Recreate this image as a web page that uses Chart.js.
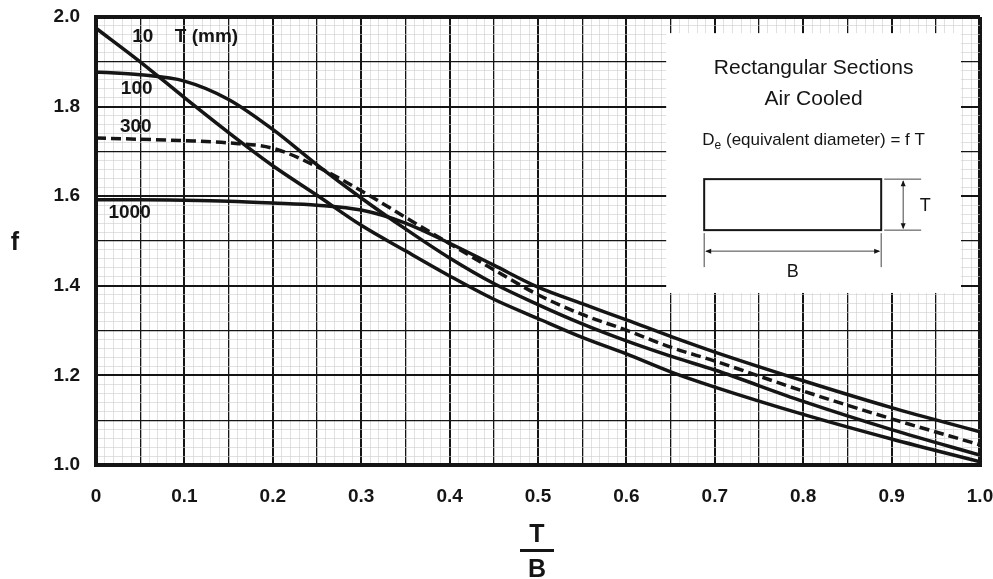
<!DOCTYPE html>
<html>
<head>
<meta charset="utf-8">
<script src="https://cdn.jsdelivr.net/npm/chart.js@4.4.1/dist/chart.umd.min.js"></script>
<style>
  html, body { margin: 0; padding: 0; background: #fff; }
  #wrap { width: 993px; height: 579px; }
</style>
</head>
<body>
<div id="wrap"><canvas id="fChart" width="993" height="579"></canvas></div>
<script>
// T/B ratio and f
const ratioTB = [0, 0.05, 0.1, 0.15, 0.2, 0.25, 0.3, 0.35, 0.4, 0.45, 0.5, 0.55, 0.6, 0.65, 0.7, 0.8, 0.9, 1.0];
const fT10   = [1.975, 1.900, 1.820, 1.742, 1.668, 1.602, 1.535, 1.478, 1.422, 1.370, 1.327, 1.285, 1.248, 1.208, 1.174, 1.113, 1.058, 1.007];
const fT100  = [1.877, 1.871, 1.857, 1.816, 1.749, 1.670, 1.596, 1.527, 1.462, 1.405, 1.358, 1.315, 1.277, 1.243, 1.212, 1.142, 1.079, 1.022];
const fT300  = [1.730, 1.727, 1.724, 1.719, 1.707, 1.666, 1.612, 1.553, 1.494, 1.436, 1.380, 1.336, 1.301, 1.263, 1.232, 1.165, 1.103, 1.045];
const fT1000 = [1.592, 1.592, 1.591, 1.589, 1.585, 1.580, 1.569, 1.540, 1.495, 1.446, 1.397, 1.360, 1.324, 1.287, 1.252, 1.188, 1.128, 1.074];
const xTickLabels = ["0", "0.1", "0.2", "0.3", "0.4", "0.5", "0.6", "0.7", "0.8", "0.9", "1.0"];
const yTickLabels = ["1.0", "1.2", "1.4", "1.6", "1.8", "2.0"];

const INK = "#151515";
const FONT = "'Liberation Sans', Arial, sans-serif";

function toPoints(ys) {
  return ratioTB.map((x, i) => ({ x: x, y: ys[i] }));
}

function curve(label, ys, dash) {
  return {
    label: label,
    data: toPoints(ys),
    borderColor: INK,
    borderWidth: 3.5,
    borderDash: dash || [],
    pointRadius: 0,
    fill: false,
    cubicInterpolationMode: "monotone",
  };
}

// grid: x every 0.01 (0.05 medium, 0.1 heavy), y every 0.02 (0.1 medium, 0.2 heavy)
function xGridWidth(ctx) {
  const k = Math.round(ctx.tick.value * 100);
  if (k === 0 || k === 100) return 4;
  if (k % 10 === 0) return 2;
  if (k % 5 === 0) return 1.3;
  return 0.6;
}
function xGridColor(ctx) {
  const k = Math.round(ctx.tick.value * 100);
  return k % 5 === 0 ? INK : "#cdcdcd";
}
function yGridWidth(ctx) {
  const k = Math.round(ctx.tick.value * 100);
  if (k === 100 || k === 200) return 4;
  if (k % 20 === 0) return 2;
  if (k % 10 === 0) return 1.3;
  return 0.6;
}
function yGridColor(ctx) {
  const k = Math.round(ctx.tick.value * 100);
  return k % 10 === 0 ? INK : "#cdcdcd";
}

const annotate = {
  id: "annotate",
  beforeDatasetsDraw(chart) {
    const { ctx, scales: { x, y } } = chart;
    const left = x.getPixelForValue(0.645);
    const right = x.getPixelForValue(0.9785);
    const top = y.getPixelForValue(1.964);
    const bottom = y.getPixelForValue(1.384);
    const cx = (left + right) / 2;
    ctx.save();
    ctx.fillStyle = "#fff";
    ctx.fillRect(left, top, right - left, bottom - top);

    ctx.fillStyle = INK;
    ctx.textAlign = "center";
    ctx.textBaseline = "middle";
    ctx.font = "21px " + FONT;
    ctx.fillText("Rectangular Sections", cx, top + 35);
    ctx.fillText("Air Cooled", cx, top + 66);

    // D_e (equivalent diameter) = f T
    ctx.font = "17px " + FONT;
    const rest = " (equivalent diameter) = f T";
    const wD = ctx.measureText("D").width;
    ctx.font = "12px " + FONT;
    const wE = ctx.measureText("e").width;
    ctx.font = "17px " + FONT;
    const wR = ctx.measureText(rest).width;
    let tx = cx - (wD + wE + wR) / 2;
    const ty = top + 107;
    ctx.textAlign = "left";
    ctx.fillText("D", tx, ty);
    ctx.font = "12px " + FONT;
    ctx.fillText("e", tx + wD, ty + 6);
    ctx.font = "17px " + FONT;
    ctx.fillText(rest, tx + wD + wE, ty);

    // section sketch
    const rx0 = left + 38, rx1 = left + 215, ry0 = top + 146, ry1 = top + 197;
    ctx.strokeStyle = INK;
    ctx.lineWidth = 2;
    ctx.strokeRect(rx0, ry0, rx1 - rx0, ry1 - ry0);

    ctx.lineWidth = 0.8;
    ctx.beginPath();
    ctx.moveTo(rx1 + 3, ry0); ctx.lineTo(rx1 + 40, ry0);
    ctx.moveTo(rx1 + 3, ry1); ctx.lineTo(rx1 + 40, ry1);
    ctx.moveTo(rx1 + 22, ry0 + 2); ctx.lineTo(rx1 + 22, ry1 - 2);
    ctx.moveTo(rx0, ry1 + 3); ctx.lineTo(rx0, ry1 + 37);
    ctx.moveTo(rx1, ry1 + 3); ctx.lineTo(rx1, ry1 + 37);
    ctx.moveTo(rx0 + 2, ry1 + 21); ctx.lineTo(rx1 - 2, ry1 + 21);
    ctx.stroke();

    function arrow(px, py, dx, dy) {
      ctx.beginPath();
      ctx.moveTo(px, py);
      ctx.lineTo(px - dx * 6 - dy * 2.5, py - dy * 6 - dx * 2.5);
      ctx.lineTo(px - dx * 6 + dy * 2.5, py - dy * 6 + dx * 2.5);
      ctx.closePath();
      ctx.fill();
    }
    arrow(rx1 + 22, ry0 + 1, 0, -1);
    arrow(rx1 + 22, ry1 - 1, 0, 1);
    arrow(rx0 + 1, ry1 + 21, -1, 0);
    arrow(rx1 - 1, ry1 + 21, 1, 0);

    ctx.textAlign = "center";
    ctx.font = "18px " + FONT;
    ctx.fillText("T", rx1 + 44, (ry0 + ry1) / 2 + 1);
    ctx.fillText("B", (rx0 + rx1) / 2, ry1 + 42);
    ctx.restore();
  },
  afterDraw(chart) {
    const { ctx, scales: { x, y }, chartArea } = chart;
    ctx.save();
    ctx.fillStyle = INK;
    ctx.textBaseline = "middle";
    ctx.textAlign = "center";
    ctx.font = "bold 19px " + FONT;
    ctx.fillText("10", x.getPixelForValue(0.053), y.getPixelForValue(1.955));
    ctx.fillText("T (mm)", x.getPixelForValue(0.125), y.getPixelForValue(1.955));
    ctx.fillText("100", x.getPixelForValue(0.046), y.getPixelForValue(1.839));
    ctx.fillText("300", x.getPixelForValue(0.045), y.getPixelForValue(1.754));
    ctx.fillText("1000", x.getPixelForValue(0.038), y.getPixelForValue(1.5625));

    // axis titles
    ctx.font = "bold 25px " + FONT;
    ctx.fillText("f", 15, (chartArea.top + chartArea.bottom) / 2 + 2);
    const mx = (chartArea.left + chartArea.right) / 2 - 1;
    ctx.fillText("T", mx, 535);
    ctx.fillText("B", mx, 570);
    ctx.fillRect(mx - 17, 549, 34, 3);
    ctx.restore();
  },
};

new Chart(document.getElementById("fChart"), {
  type: "line",
  data: {
    datasets: [
      curve("10", fT10),
      curve("100", fT100),
      curve("300", fT300, [10, 5]),
      curve("1000", fT1000),
    ],
  },
  options: {
    responsive: false,
    animation: false,
    layout: { padding: { top: 17, right: 13, left: 0, bottom: 0 } },
    plugins: { legend: { display: false }, tooltip: { enabled: false } },
    scales: {
      x: {
        type: "linear",
        min: 0,
        max: 1,
        afterFit: (s) => { s.height = 114; s.paddingLeft = 0; s.paddingRight = 0; },
        ticks: {
          stepSize: 0.01,
          autoSkip: false,
          maxRotation: 0,
          padding: 20,
          color: INK,
          font: { family: FONT, size: 19, weight: "bold" },
          callback: (v) => {
            const k = Math.round(v * 100);
            return k % 10 === 0 ? xTickLabels[k / 10] : "";
          },
        },
        grid: { drawTicks: false, lineWidth: xGridWidth, color: xGridColor },
        border: { display: true, width: 4, color: INK },
      },
      y: {
        min: 1,
        max: 2,
        afterFit: (s) => { s.width = 96; s.paddingTop = 0; s.paddingBottom = 0; },
        ticks: {
          stepSize: 0.02,
          autoSkip: false,
          padding: 16,
          color: INK,
          font: { family: FONT, size: 19, weight: "bold" },
          callback: (v) => {
            const k = Math.round(v * 100) - 100;
            return k % 20 === 0 ? yTickLabels[k / 20] : "";
          },
        },
        grid: { drawTicks: false, lineWidth: yGridWidth, color: yGridColor },
        border: { display: true, width: 4, color: INK },
      },
    },
  },
  plugins: [annotate],
});
</script>
</body>
</html>
